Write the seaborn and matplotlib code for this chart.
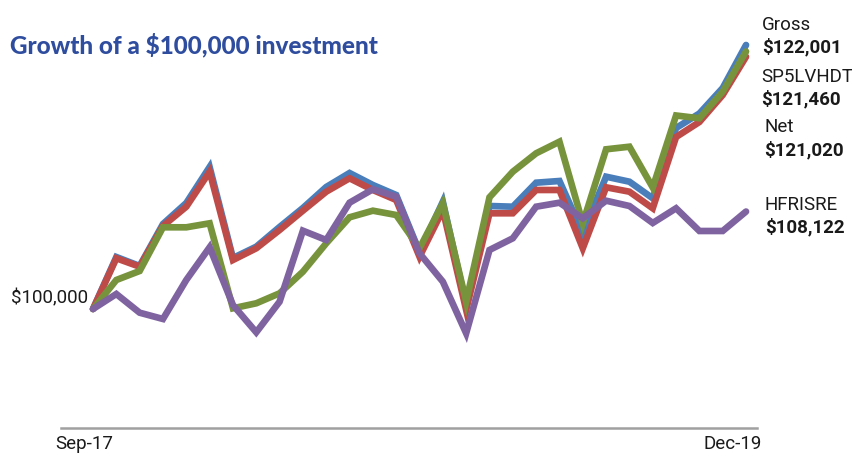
import matplotlib
matplotlib.use("Agg")
import matplotlib.pyplot as plt
import pandas as pd
import seaborn as sns

# month index 0..28 (Sep-17 .. Dec-19)
months = list(range(29))

gross = [100000, 104333, 103583, 107083, 108833, 111833, 104250, 105192, 106833,
         108417, 110167, 111333, 110333, 109500, 104750, 108942, 100333, 108583,
         108525, 110525, 110667, 106333, 111025, 110608, 109225, 115083, 116292,
         118417, 122001]
net = [100000, 104225, 103525, 106917, 108525, 111442, 104083, 105058, 106583,
       108192, 109775, 110892, 109917, 109083, 104358, 108250, 99917, 107975,
       107975, 109917, 109917, 105058, 110142, 109775, 108392, 114333, 115583,
       117833, 121020]
sp5 = [100000, 102417, 103167, 106808, 106808, 107142, 100058, 100475, 101308,
       103108, 105475, 107642, 108192, 107833, 105058, 108808, 100608, 109308,
       111442, 112975, 113942, 107142, 113308, 113525, 110125, 116125, 115892,
       118108, 121460]
hfri = [100000, 101250, 99692, 99167, 102417, 105142, 100333, 98058, 100608,
        106525, 105750, 108858, 109975, 109358, 104642, 102275, 97975, 104917,
        105892, 108525, 108858, 107558, 109025, 108583, 107167, 108392, 106500,
        106500, 108122]

series_names = ["Gross", "Net", "SP5LVHDT", "HFRISRE"]
series_vals = [gross, net, sp5, hfri]
colors = ["#4A7EBB", "#BE4B48", "#77933C", "#7F63A1"]

end_labels = [("Gross", "$122,001"), ("SP5LVHDT", "$121,460"),
              ("Net", "$121,020"), ("HFRISRE", "$108,122")]
x_labels = ["Sep-17", "Dec-19"]

rows = []
for name, vals in zip(series_names, series_vals):
    for m, v in zip(months, vals):
        rows.append({"month": m, "value": v, "series": name})
df = pd.DataFrame(rows)

sns.set_theme(style="white")
plt.rcParams["font.family"] = ["Roboto", "DejaVu Sans"]

W, H = 852, 454
fig = plt.figure(figsize=(W / 100, H / 100), dpi=100)
ax = fig.add_axes([60.7 / W, 1 - 428 / H, (757 - 60.7) / W, (428 - 20) / H])

sns.lineplot(data=df, x="month", y="value", hue="series", hue_order=series_names,
             palette=colors, linewidth=4.8, solid_capstyle="round",
             solid_joinstyle="miter", legend=False, ax=ax, sort=False)

ax.set_xlim(-1.385, 28.47)
ax.set_ylim(90083, 124083)
for s in ["top", "right", "left"]:
    ax.spines[s].set_visible(False)
ax.spines["bottom"].set_color("#A0A0A0")
ax.spines["bottom"].set_linewidth(1.8)
ax.set_xlabel("")
ax.set_ylabel("")
ax.set_yticks([])
ax.set_xticks([-0.386, 27.44], x_labels)
ax.tick_params(axis="x", length=0, pad=5, labelsize=13.5, labelcolor="#1a1a1a")

ax.text(-0.22, 100900, "$100,000", ha="right", va="center", fontsize=13.5,
        color="#1a1a1a")

# end labels
label_pos = [(762, 25, 47), (761, 77, 99), (764, 127, 150), (765, 205, 227)]
for (name, val), (px, y1, y2) in zip(end_labels, label_pos):
    fig.text(px / W, 1 - y1 / H, name, ha="left", va="center", fontsize=13.5,
             color="#1a1a1a")
    fig.text(px / W, 1 - y2 / H, val, ha="left", va="center", fontsize=13.5,
             fontweight="bold", color="#1a1a1a")

fig.text(10 / W, 1 - 45 / H, "Growth of a $100,000 investment", ha="left",
         va="center", fontsize=17.5, fontweight=900, color="#2F4D9E",
         family=["Lato", "DejaVu Sans"])

fig.savefig("out.png", dpi=100)
